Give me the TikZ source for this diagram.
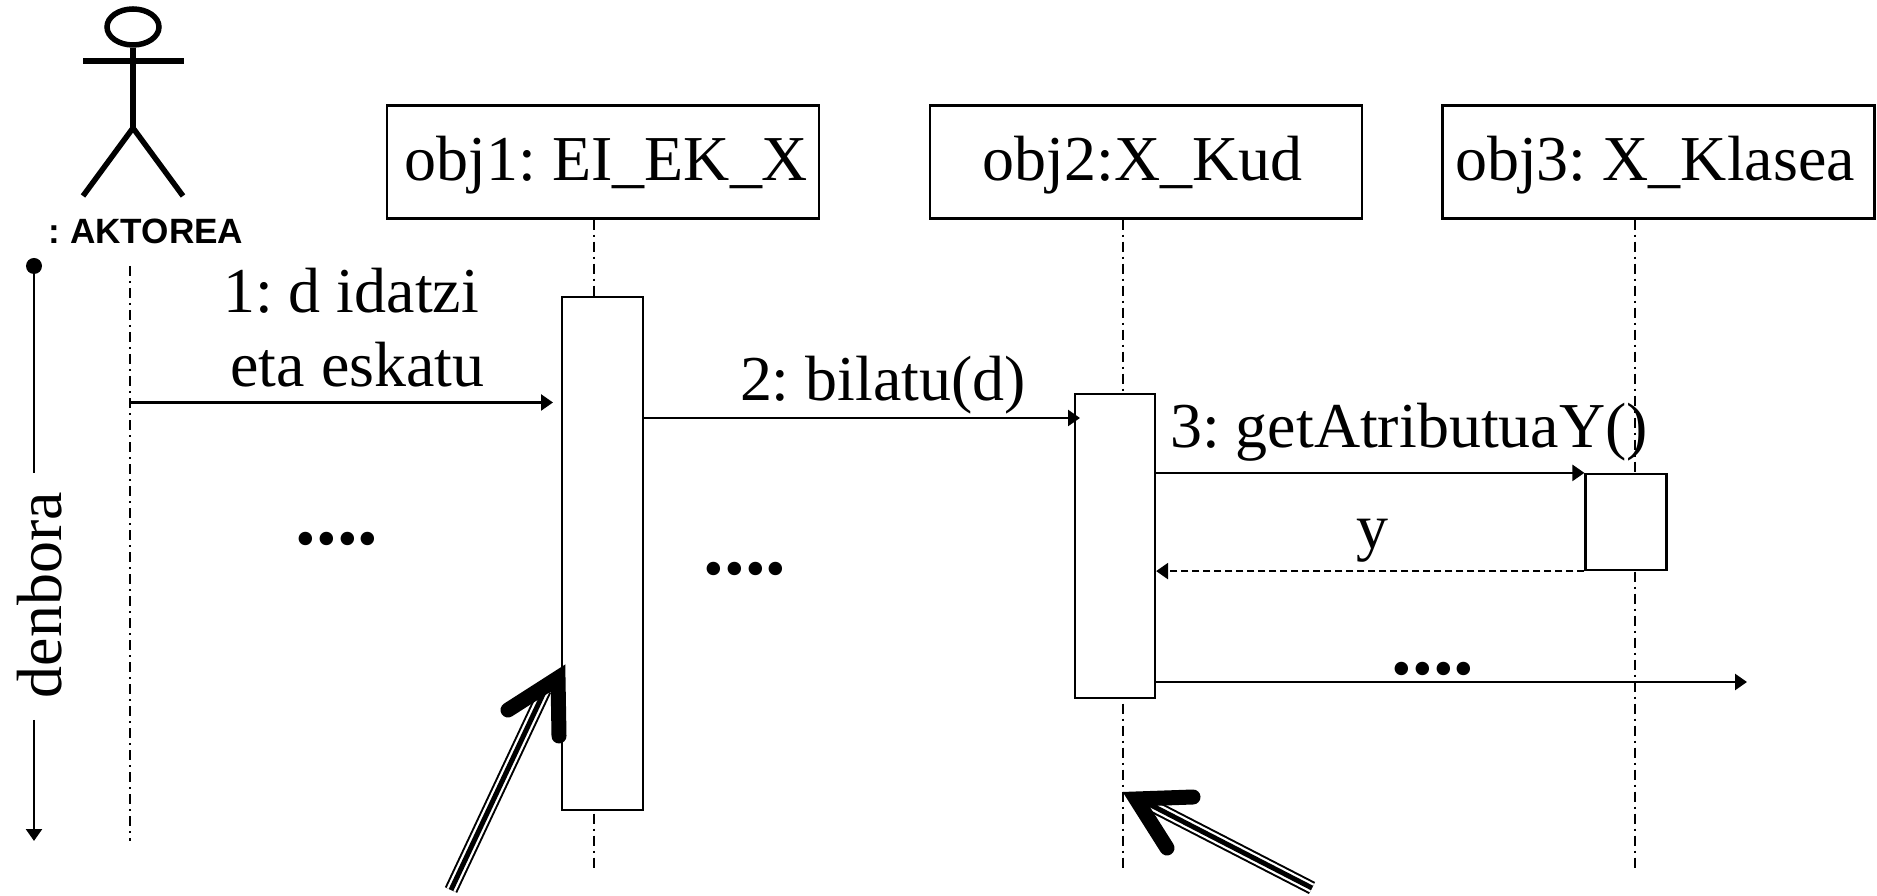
\documentclass[tikz,border=0pt]{standalone}
\usepackage{fontspec}
\setmainfont{Liberation Serif}
\setsansfont{Liberation Sans}
\usetikzlibrary{arrows.meta,shapes.geometric}
\frenchspacing
\tikzset{
    objbox/.style={draw, line width=0.022cm, minimum width=4.32cm, minimum height=1.13cm, inner sep=0pt, text depth=0.07cm, font=\fontsize{18.2}{21}\selectfont},
    actbox/.style={draw, fill=white, line width=0.022cm, inner sep=0pt},
    lifeline/.style={line width=0.017cm, dash pattern=on 0.10cm off 0.05cm on 0.02cm off 0.05cm},
    msg/.style={line width=0.025cm, -{Triangle[length=0.12cm,width=0.16cm]}},
    label/.style={inner sep=0pt, font=\fontsize{18.2}{21}\selectfont, align=center},
    dots/.style={inner sep=0pt, font=\fontsize{23.5}{24}\selectfont\bfseries},
    stick/.style={line width=0.055cm}
}
% big pointer: shaft end, shaft head, barb, tip, barb
\newcommand{\fatarrow}[5]{
            \draw[line width=0.135cm] (#1) -- (#2);
            \draw[line width=0.095cm, white] (#1) -- (#2);
            \draw[line width=0.05cm] (#1) -- (#2);
            \draw[line width=0.15cm, line cap=round, miter limit=20] (#3) -- (#4) -- (#5);
        }
\begin{document}
\begin{tikzpicture}
        \useasboundingbox (0,0) rectangle (18.77,-8.96);

        % actor
        \node[stick, draw, ellipse, minimum width=0.52cm, minimum height=0.36cm, inner sep=0pt] (head) at (1.33,-0.27) {};
        \coordinate (hip) at (1.33,-1.28);
        \draw[stick] (head.south) -- (hip);
        \draw[stick] (0.83,-0.61) -- (1.84,-0.61);
        \draw[stick] (0.83,-1.96) -- (hip) -- (1.83,-1.96);
        \node[inner sep=0pt, font=\fontsize{10}{12}\selectfont\sffamily\bfseries] (actor) at (1.46,-2.31) {: AKTOREA};

        % objects
        \node[objbox] (obj1) at (6.03,-1.62) {\hspace*{0.07cm}obj1: EI\_EK\_X};
        \node[objbox] (obj2) at (11.46,-1.62) {obj2:X\_Kud\hspace*{0.07cm}};
        \node[objbox] (obj3) at (16.585,-1.62) {obj3: X\_Klasea\hspace*{0.07cm}};

        % lifelines
        \coordinate (end0) at (1.30,-8.41);
        \coordinate (end1) at (5.94,-8.72);
        \coordinate (end2) at (11.23,-8.72);
        \coordinate (end3) at (16.35,-8.72);
        \draw[lifeline] (1.30,-2.66) -- (end0);
        \draw[lifeline] (obj1.south -| end1) -- (end1);
        \draw[lifeline] (obj2.south -| end2) -- (end2);
        \draw[lifeline] (obj3.south -| end3) -- (end3);

        % activations
        \node[actbox, minimum width=0.805cm, minimum height=5.13cm] (act1) at (6.025,-5.535) {};
        \node[actbox, minimum width=0.80cm, minimum height=3.04cm] (act2) at (11.15,-5.46) {};
        \node[actbox, minimum width=0.81cm, minimum height=0.96cm] (act3) at (16.26,-5.22) {};

        % messages
        \coordinate (m1) at (5.53,-4.025);
        \coordinate (m2) at (10.80,-4.18);
        \coordinate (m5) at (17.47,-6.82);
        \draw[msg] (end0 |- m1) -- (m1);
        \draw[msg] (act1.east |- m2) -- (m2);
        \draw[msg] (act2.east |- act3.north west) -- (act3.north west);
        \draw[msg, dash pattern=on 0.07cm off 0.04cm] (act3.south west) -- (act2.east |- act3.south west);
        \draw[msg] (act2.east |- m5) -- (m5);

        \node[label, anchor=base] (txt1) at (3.51,-3.13) {1: d idatzi};
        \node[label, anchor=base] (txt1b) at (3.575,-3.87) {eta eskatu};
        \node[label] (txt2) at (8.83,-3.85) {2: bilatu(d)};
        \node[label] (txt3) at (14.09,-4.32) {3: getAtributuaY()};
        \node[label] (txty) at (13.72,-5.41) {y};
        \node[dots] (dots1) at (3.37,-5.39) {....};
        \node[dots] (dots2) at (7.45,-5.69) {....};
        \node[dots] (dots3) at (14.33,-6.69) {....};

        % time axis
        \node[label, rotate=90] (time) at (0.40,-5.95) {denbora};
        \coordinate (timeend) at (0.34,-8.41);
        \fill (0.34,-2.66) circle (0.08);
        \draw[line width=0.025cm] (0.34,-2.66) -- (0.34,-4.73);
        \draw[msg] (0.34,-7.20) -- (timeend);

        % pointers
        \fatarrow{4.51,-8.90}{5.45,-6.90}{5.08,-7.10}{5.58,-6.78}{5.59,-7.36}
        \fatarrow{13.12,-8.88}{11.45,-8.02}{11.93,-7.97}{11.36,-7.99}{11.67,-8.48}
\end{tikzpicture}
\end{document}
